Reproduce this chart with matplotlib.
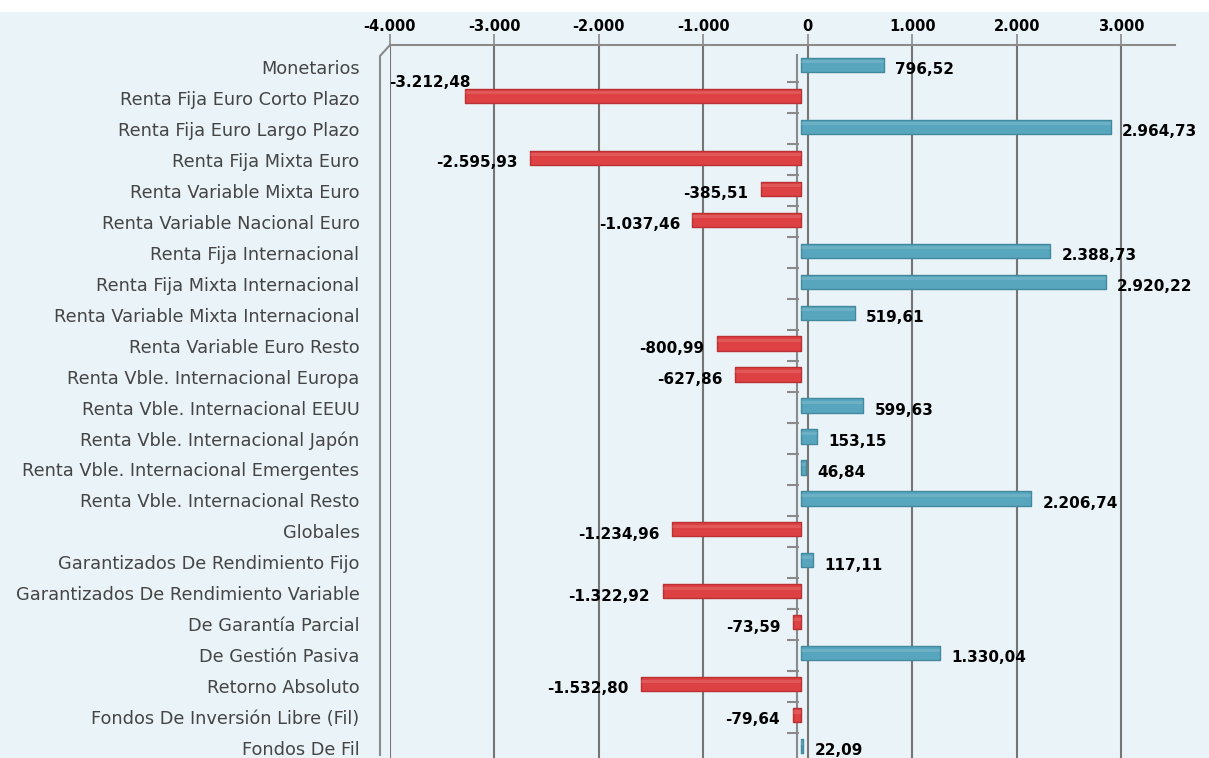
import matplotlib.pyplot as plt
import matplotlib.transforms as mtransforms
from matplotlib.lines import Line2D
from matplotlib.patches import Rectangle

categories = [
    "Monetarios",
    "Renta Fija Euro Corto Plazo",
    "Renta Fija Euro Largo Plazo",
    "Renta Fija Mixta Euro",
    "Renta Variable Mixta Euro",
    "Renta Variable Nacional Euro",
    "Renta Fija Internacional",
    "Renta Fija Mixta Internacional",
    "Renta Variable Mixta Internacional",
    "Renta Variable Euro Resto",
    "Renta Vble. Internacional Europa",
    "Renta Vble. Internacional EEUU",
    "Renta Vble. Internacional Japón",
    "Renta Vble. Internacional Emergentes",
    "Renta Vble. Internacional Resto",
    "Globales",
    "Garantizados De Rendimiento Fijo",
    "Garantizados De Rendimiento Variable",
    "De Garantía Parcial",
    "De Gestión Pasiva",
    "Retorno Absoluto",
    "Fondos De Inversión Libre (Fil)",
    "Fondos De Fil",
]
values = [
    796.52, -3212.48, 2964.73, -2595.93, -385.51, -1037.46, 2388.73,
    2920.22, 519.61, -800.99, -627.86, 599.63, 153.15, 46.84, 2206.74,
    -1234.96, 117.11, -1322.92, -73.59, 1330.04, -1532.80, -79.64, 22.09,
]
tick_values = [-4000, -3000, -2000, -1000, 0, 1000, 2000, 3000]


def fmt_es(v, dec=2):
    s = f"{abs(v):,.{dec}f}"
    s = s.replace(",", "X").replace(".", ",").replace("X", ".")
    return ("-" if v < 0 else "") + s


W, H = 1209, 758
fig = plt.figure(figsize=(W / 100, H / 100), dpi=100)
fig.patch.set_facecolor("#e9f3f8")
# white strip on top
fig.add_artist(Rectangle((0, 1 - 12 / H), 1, 12 / H, transform=fig.transFigure,
                         facecolor="white", edgecolor="none", zorder=0))

ax = fig.add_axes([390 / W, 0, 785 / W, 713 / H])
ax.set_facecolor("none")

n = len(categories)
ys = list(range(n))
ax.set_xlim(-4000, 3515)
ax.set_ylim(n - 1 + 0.32, -0.71)

# top axis
ax.xaxis.tick_top()
ax.set_xticks(tick_values)
ax.set_xticklabels([fmt_es(t, 0) for t in tick_values], fontsize=10.5,
                   fontweight="bold", color="black")
ax.tick_params(axis="x", length=8, width=1.2, color="#8a8a8a", pad=0)
for s in ["left", "right", "bottom"]:
    ax.spines[s].set_visible(False)
ax.spines["top"].set_color("#8a8a8a")
ax.spines["top"].set_linewidth(1.5)
ax.grid(axis="x", color="#757575", linewidth=1.5)
ax.set_axisbelow(True)

# categories
ax.set_yticks(ys)
ax.set_yticklabels(categories, fontsize=12.8, color="#454545")
ax.tick_params(axis="y", length=0, pad=22)

# 3D depth: left wall and the front zero line
dx = -11
wall_x = 380 / W
fig.add_artist(Line2D([390 / W, wall_x, wall_x], [1 - 45 / H, 1 - 56 / H, 3 / H],
                      transform=fig.transFigure, color="#8a8a8a", lw=1.5))
front = mtransforms.offset_copy(ax.transData, fig=fig, x=dx, y=0, units="dots")
ax.plot([0, 0], [-0.4, n - 1 + 0.32], color="#8a8a8a", lw=1.5, transform=front,
        zorder=1)
ax.plot([0] * (n - 1), [i + 0.5 for i in range(n - 1)], linestyle="none",
        marker="_", markersize=8, markeredgewidth=1.5, color="#8a8a8a",
        transform=mtransforms.offset_copy(ax.transData, fig=fig, x=dx - 4, y=0,
                                          units="dots"))

# bars
bar_tr = mtransforms.offset_copy(ax.transData, fig=fig, x=-7, y=2, units="dots")
colors = ["#58a6bd" if v >= 0 else "#dd4143" for v in values]
edges = ["#42899f" if v >= 0 else "#bb3032" for v in values]
bars = ax.barh(ys, values, height=0.46, color=colors, edgecolor=edges,
               linewidth=1.0, zorder=3)
for b in bars:
    b.set_transform(bar_tr)
    b.set_joinstyle("round")
hl = ax.barh([y - 0.1 for y in ys], values, height=0.1,
             color="white", alpha=0.12, linewidth=0, zorder=4)
for b in hl:
    b.set_transform(bar_tr)

# value labels
for y, v in zip(ys, values):
    if v >= 0:
        ax.annotate(fmt_es(v), (v, y), xytext=(3, -2), textcoords="offset points",
                    ha="left", va="center", fontsize=11, fontweight="bold",
                    zorder=5)
    elif v < -3000:
        ax.annotate(fmt_es(v), (v, y), xytext=(-1, 11), textcoords="offset points",
                    ha="right", va="center", fontsize=11, fontweight="bold",
                    zorder=5)
    else:
        ax.annotate(fmt_es(v), (v, y), xytext=(-14, -2), textcoords="offset points",
                    ha="right", va="center", fontsize=11, fontweight="bold",
                    zorder=5)

fig.savefig("out.png", dpi=100, facecolor=fig.get_facecolor())
